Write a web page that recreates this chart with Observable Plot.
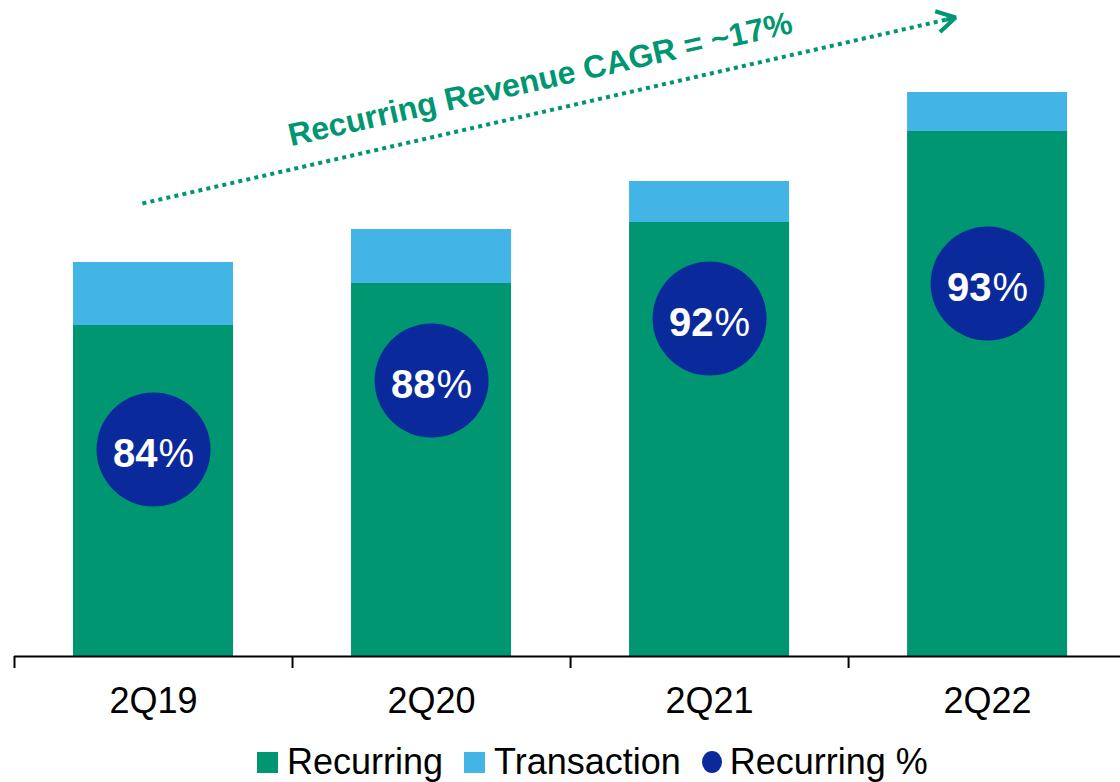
<!DOCTYPE html>
<html>
<head>
<meta charset="utf-8">
<script src="https://cdn.jsdelivr.net/npm/d3@7"></script>
<script src="https://cdn.jsdelivr.net/npm/@observablehq/plot@0.6"></script>
<style>
  body { margin: 0; background: #fff; font-family: "Liberation Sans", Arial, sans-serif; }
  #wrap { position: relative; width: 1120px; height: 782px; overflow: hidden; background: #fff; }
  #legend { position: absolute; left: 257px; top: 744px; display: flex; align-items: center;
            font-size: 36px; line-height: 36px; color: #000; white-space: nowrap; }
  .item { display: inline-flex; align-items: center; margin-right: 21px; }
  .sw { display: inline-block; width: 21px; height: 21px; margin-right: 9px; }
  .sw.dot { width: 20px; height: 22px; border-radius: 50%; margin-right: 8px; }
</style>
</head>
<body>
<div id="wrap">
  <div id="chart"></div>
  <div id="legend"></div>
</div>
<script>
// ---- data ----
const categories = ["2Q19", "2Q20", "2Q21", "2Q22"];
const recurring = [331, 373, 434, 525];
const transaction = [63, 54, 41, 39];
const recurringPct = [84, 88, 92, 93];
const seriesNames = ["Recurring", "Transaction", "Recurring %"];
const seriesColors = ["#009672", "#42b4e6", "#0a2a9c"];
// ---- annotations ----
const bubbleLevel = [207, 276, 338, 373];
const cagrLabel = "Recurring Revenue CAGR = ~17%";
const cagrArrow = [{x1: 0.46, y1: 453, x2: 3.385, y2: 639}];
const cagrText = [{x: 1.891, y: 577, text: cagrLabel}];

const green = seriesColors[0];
const rows = [];
categories.forEach((c, i) => {
  rows.push({i, cat: c, series: seriesNames[0], value: recurring[i]});
  rows.push({i, cat: c, series: seriesNames[1], value: transaction[i]});
});
const bubbles = categories.map((c, i) => ({i, cat: c, level: bubbleLevel[i], pct: recurringPct[i]}));

const chart = Plot.plot({
  width: 1120,
  height: 730,
  marginTop: 0,
  marginLeft: 14,
  marginRight: 0,
  marginBottom: 74,
  style: {fontFamily: "'Liberation Sans', Arial, sans-serif", background: "#fff", color: "#000"},
  x: {type: "linear", domain: [0, 3.978], axis: null},
  y: {domain: [0, 656], axis: null},
  color: {domain: seriesNames.slice(0, 2), range: seriesColors.slice(0, 2)},
  marks: [
    Plot.rectY(rows, {x: "i", interval: 1, y: "value", fill: "series", insetLeft: 59, insetRight: 59}),
    Plot.ruleY([0], {stroke: "#000", strokeWidth: 2}),
    Plot.axisX({ticks: d3.range(categories.length), tickSize: 12, strokeWidth: 2, tickFormat: () => ""}),
    Plot.axisX({ticks: d3.range(categories.length).map(i => i + 0.5), tickSize: 0, tickPadding: 31,
                fontSize: 36, fill: "#000", tickFormat: v => categories[Math.floor(v)]}),
    Plot.dot(bubbles, {x: d => d.i + 0.5, y: "level", r: 57, fill: seriesColors[2]}),
    Plot.text(bubbles, {x: d => d.i + 0.5, y: "level", text: d => String(d.pct), textAnchor: "end",
                        dx: 4, dy: 5, fontSize: 40, fontWeight: "bold", fill: "#fff"}),
    Plot.text(bubbles, {x: d => d.i + 0.5, y: "level", text: () => "%", textAnchor: "start",
                        dx: 5, dy: 5, fontSize: 40, fill: "#fff"}),
    Plot.link(cagrArrow, {x1: "x1", y1: "y1", x2: "x2", y2: "y2", stroke: green, strokeWidth: 4,
                          strokeDasharray: "4,4.2"}),
    Plot.arrow(cagrArrow, {x1: "x1", y1: "y1", x2: "x2", y2: "y2", stroke: green, strokeWidth: 4,
                           headLength: 8, insetStart: 824, strokeLinejoin: "miter", strokeLinecap: "butt"}),
    Plot.text(cagrText, {x: "x", y: "y", text: "text", rotate: -12.7, fontSize: 32, fontWeight: "bold", fill: green})
  ]
});
document.getElementById("chart").appendChild(chart);

const legend = document.getElementById("legend");
seriesNames.forEach((name, k) => {
  const item = document.createElement("span");
  item.className = "item";
  const sw = document.createElement("span");
  sw.className = "sw" + (k === 2 ? " dot" : "");
  sw.style.background = seriesColors[k];
  const label = document.createElement("span");
  label.textContent = name;
  item.appendChild(sw);
  item.appendChild(label);
  legend.appendChild(item);
});
</script>
</body>
</html>
